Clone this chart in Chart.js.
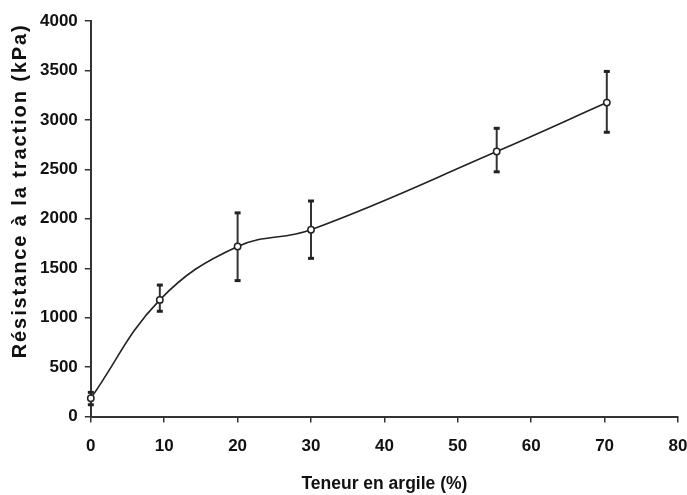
<!DOCTYPE html>
<html>
<head>
<meta charset="utf-8">
<script src="https://cdn.jsdelivr.net/npm/chart.js@4/dist/chart.umd.min.js"></script>
<style>
  html, body { margin: 0; padding: 0; background: #ffffff; }
  #wrap { width: 687px; height: 495px; position: relative; }
</style>
</head>
<body>
<div id="wrap"><canvas id="c"></canvas></div>
<script>
// Clay content (%) and tensile resistance (kPa)
const clayContent = [0, 9.4, 20, 30, 55.3, 70.3];
const resistance = [185, 1180, 1720, 1890, 2680, 3175];
const errUpper = [245, 1330, 2060, 2180, 2915, 3490];
const errLower = [120, 1065, 1375, 1600, 2475, 2875];
const xTickValues = [0, 10, 20, 30, 40, 50, 60, 70, 80];
const yTickValues = [0, 500, 1000, 1500, 2000, 2500, 3000, 3500, 4000];
const xTitle = 'Teneur en argile (%)';
const yTitle = 'Résistance à la traction (kPa)';

const points = clayContent.map((x, i) => ({ x: x, y: resistance[i] }));

const errorBars = {
  id: 'errorBars',
  beforeDatasetsDraw(chart) {
    const ctx = chart.ctx;
    const xs = chart.scales.x, ys = chart.scales.y;
    ctx.save();
    ctx.strokeStyle = '#333333';
    ctx.fillStyle = '#222222';
    ctx.lineWidth = 2;
    clayContent.forEach((x, i) => {
      const px = xs.getPixelForValue(x);
      const top = ys.getPixelForValue(errUpper[i]);
      const bot = ys.getPixelForValue(errLower[i]);
      ctx.beginPath();
      ctx.moveTo(px, top);
      ctx.lineTo(px, bot);
      ctx.stroke();
      ctx.fillRect(px - 3, top - 1.5, 6, 3);
      ctx.fillRect(px - 3, bot - 1.5, 6, 3);
    });
    ctx.restore();
  }
};

// Wider letter spacing and shift for the y-axis title, as in the reference
const yTitleStyle = {
  id: 'yTitleStyle',
  afterLayout(chart) {
    const s = chart.scales.y;
    if (s._patchedTitle) return;
    const orig = s.drawTitle;
    s.drawTitle = function () {
      const ctx = this.ctx;
      ctx.save();
      ctx.letterSpacing = '1.9px';
      ctx.translate(5, -28);
      orig.apply(this, arguments);
      ctx.restore();
    };
    s._patchedTitle = true;
  }
};

const font = { family: '"Liberation Sans", Arial, sans-serif', weight: 'bold' };

new Chart(document.getElementById('c'), {
  type: 'scatter',
  data: {
    datasets: [{
      data: points,
      showLine: true,
      borderColor: '#222222',
      borderWidth: 1.6,
      tension: 0.4,
      pointRadius: 3.2,
      pointBorderWidth: 1.5,
      pointBackgroundColor: '#ffffff',
      pointBorderColor: '#222222',
      clip: false
    }]
  },
  options: {
    responsive: true,
    maintainAspectRatio: false,
    animation: false,
    layout: { padding: { top: 21, right: 0, left: 3, bottom: 0 } },
    plugins: { legend: { display: false }, tooltip: { enabled: false } },
    scales: {
      x: {
        type: 'linear', min: 0, max: 80,
        afterBuildTicks(s) { s.ticks = xTickValues.map(v => ({ value: v })); },
        afterFit(s) { s.paddingRight = 9; s.paddingLeft = 0; },
        grid: { drawOnChartArea: false, drawTicks: true, tickLength: 6, color: '#333333', lineWidth: 1.5 },
        border: { display: true, color: '#333333', width: 2 },
        ticks: { color: '#111111', padding: 14, font: Object.assign({ size: 17 }, font), maxRotation: 0,
                 callback: v => String(v) },
        title: { display: true, text: xTitle, color: '#111111', font: Object.assign({ size: 17.5 }, font), padding: { top: 3, bottom: 0 } }
      },
      y: {
        type: 'linear', min: 0, max: 4000,
        afterBuildTicks(s) { s.ticks = yTickValues.map(v => ({ value: v })); },
        grid: { drawOnChartArea: false, drawTicks: true, tickLength: 6, color: '#333333', lineWidth: 1.5 },
        border: { display: true, color: '#333333', width: 2 },
        ticks: { color: '#111111', padding: 7, font: Object.assign({ size: 17 }, font),
                 callback: v => String(v) },
        title: { display: true, text: yTitle, color: '#111111', font: Object.assign({ size: 20 }, font), padding: { top: 0, bottom: 6 } }
      }
    }
  },
  plugins: [errorBars, yTitleStyle]
});
</script>
</body>
</html>
